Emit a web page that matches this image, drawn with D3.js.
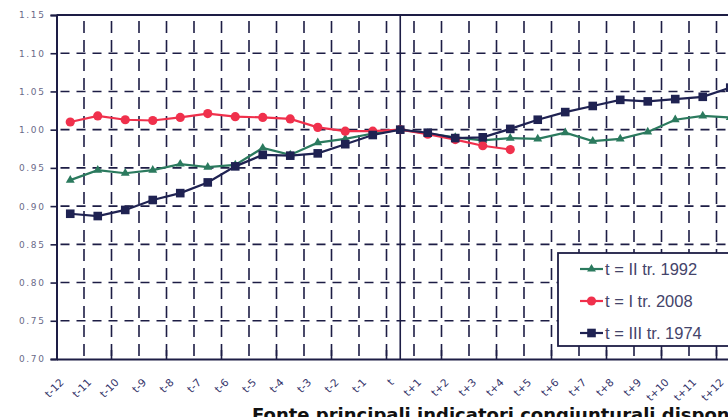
<!DOCTYPE html>
<html>
<head>
<meta charset="utf-8">
<script src="https://cdn.jsdelivr.net/npm/d3@7"></script>
<style>
  body { margin: 0; background: #fff; overflow: hidden; }
  svg { display: block; font-family: "Liberation Sans", Arial, sans-serif; }
</style>
</head>
<body>
<script>
// categorie (trimestri attorno a t)
var categories = ["t-12","t-11","t-10","t-9","t-8","t-7","t-6","t-5","t-4","t-3","t-2","t-1","t",
  "t+1","t+2","t+3","t+4","t+5","t+6","t+7","t+8","t+9","t+10","t+11","t+12"];

// t = II tr. 1992
var green = [0.934,0.947,0.943,0.947,0.955,0.951,0.954,0.976,0.967,0.983,0.988,0.995,1.000,
  0.995,0.990,0.986,0.989,0.988,0.996,0.985,0.988,0.997,1.013,1.018,1.016];
// t = I tr. 2008
var red = [1.010,1.018,1.013,1.012,1.016,1.021,1.017,1.016,1.014,1.003,0.998,0.998,1.000,
  0.994,0.987,0.979,0.974];
// t = III tr. 1974
var blue = [0.890,0.887,0.895,0.908,0.917,0.931,0.952,0.967,0.966,0.969,0.981,0.993,1.000,
  0.996,0.989,0.990,1.001,1.013,1.023,1.031,1.039,1.037,1.040,1.043,1.055];

var yTicks = [0.70,0.75,0.80,0.85,0.90,0.95,1.00,1.05,1.10,1.15];
var legendLabels = ["t = II tr. 1992", "t = I tr. 2008", "t = III tr. 1974"];

var width = 728, height = 417;
var ink = "#1d1d45";
var padding = { left: 56.5, top: 15, bottom: 58 };
var bottomY = height - padding.bottom;

var svg = d3.select("body").append("svg")
    .attr("width", width)
    .attr("height", height);

var xScale = d3.scaleBand()
    .domain(categories)
    .range([padding.left, padding.left + 27.5 * categories.length])
    .paddingInner(0).paddingOuter(0);
var bw = xScale.bandwidth();
function cx(i) { return xScale(categories[i]) + bw / 2; }

var yScale = d3.scaleLinear()
    .domain([0.70, 1.15])
    .range([bottomY, padding.top]);

// griglia orizzontale
svg.append("g")
    .selectAll("line")
    .data(yTicks.slice(1, -1))
    .enter().append("line")
    .attr("x1", padding.left).attr("x2", width)
    .attr("y1", function (d) { return yScale(d); })
    .attr("y2", function (d) { return yScale(d); })
    .attr("stroke", ink).attr("stroke-width", 1.6)
    .attr("stroke-dasharray", "9,7")
    .attr("stroke-dashoffset", -4);

// griglia verticale (confini tra le bande)
svg.append("g")
    .selectAll("line")
    .data(categories.slice(1))
    .enter().append("line")
    .attr("x1", function (d) { return xScale(d); })
    .attr("x2", function (d) { return xScale(d); })
    .attr("y1", padding.top).attr("y2", bottomY)
    .attr("stroke", ink).attr("stroke-width", 1.6)
    .attr("stroke-dasharray", "12,7")
    .attr("stroke-dashoffset", -6);

// tacche interne sull'asse x, ogni due bande
svg.append("g")
    .selectAll("line")
    .data(categories.filter(function (d, i) { return i > 0 && i % 2 === 0; }))
    .enter().append("line")
    .attr("x1", function (d) { return xScale(d); })
    .attr("x2", function (d) { return xScale(d); })
    .attr("y1", bottomY - 9).attr("y2", bottomY)
    .attr("stroke", ink).attr("stroke-width", 1.6);

// linea verticale su t
svg.append("line")
    .attr("x1", cx(12)).attr("x2", cx(12))
    .attr("y1", padding.top).attr("y2", bottomY)
    .attr("stroke", ink).attr("stroke-width", 1.6);

// asse y
var yAxis = d3.axisLeft(yScale)
    .tickValues(yTicks)
    .tickSize(6)
    .tickFormat(d3.format(".2f"));
var gy = svg.append("g")
    .attr("transform", "translate(" + padding.left + ",0)")
    .call(yAxis);
gy.select(".domain").attr("stroke", ink).attr("stroke-width", 2);
gy.selectAll(".tick line").attr("stroke", ink).attr("stroke-width", 1.6);
gy.selectAll(".tick text")
    .attr("fill", "#6a6a88")
    .attr("font-family", "DejaVu Sans")
    .attr("font-size", 9)
    .attr("letter-spacing", 1.6)
    .attr("x", -11);

// asse x
var xAxis = d3.axisBottom(xScale).tickSize(0);
var gx = svg.append("g")
    .attr("transform", "translate(0," + bottomY + ")")
    .call(xAxis);
gx.select(".domain").attr("stroke", ink).attr("stroke-width", 2);
gx.selectAll(".tick text")
    .attr("fill", "#34346a")
    .attr("font-family", "DejaVu Sans")
    .attr("font-size", 10.5)
    .attr("text-anchor", "end")
    .attr("dy", 0)
    .attr("transform", "translate(-8,22) rotate(-45)");

// bordo superiore
svg.append("line")
    .attr("x1", padding.left).attr("x2", width)
    .attr("y1", padding.top).attr("y2", padding.top)
    .attr("stroke", ink).attr("stroke-width", 2);

var series = [
    { name: legendLabels[0], values: green, color: "#2b7a5e", marker: "triangle" },
    { name: legendLabels[1], values: red, color: "#f0304c", marker: "circle" },
    { name: legendLabels[2], values: blue, color: "#1f2252", marker: "square" }
];

var line = d3.line()
    .x(function (d, i) { return cx(i); })
    .y(function (d) { return yScale(d); });

function drawMarker(g, type, color) {
    if (type === "circle") {
        g.append("circle").attr("r", 4.6).attr("fill", color);
    } else if (type === "square") {
        g.append("rect").attr("x", -4.3).attr("y", -4.3)
            .attr("width", 8.6).attr("height", 8.6).attr("fill", color);
    } else {
        g.append("path").attr("d", d3.symbol(d3.symbolTriangle, 34)()).attr("fill", color);
    }
}

// ordine di disegno: verde, rosso, blu sopra
[0, 1, 2].forEach(function (k) {
    var s = series[k];
    svg.append("path")
        .datum(s.values)
        .attr("d", line)
        .attr("fill", "none")
        .attr("stroke", s.color)
        .attr("stroke-width", 2.2);
    svg.append("g").selectAll("g")
        .data(s.values)
        .enter().append("g")
        .attr("transform", function (d, i) { return "translate(" + cx(i) + "," + yScale(d) + ")"; })
        .each(function () { drawMarker(d3.select(this), s.marker, s.color); });
});

// legenda
var legend = svg.append("g").attr("transform", "translate(558,253)");
legend.append("rect")
    .attr("width", 200).attr("height", 93)
    .attr("fill", "#fff")
    .attr("stroke", ink).attr("stroke-width", 1.8);
series.forEach(function (s, i) {
    var ly = 16 + i * 32;
    legend.append("line")
        .attr("x1", 22).attr("x2", 45)
        .attr("y1", ly).attr("y2", ly)
        .attr("stroke", s.color).attr("stroke-width", 2.2);
    var m = legend.append("g").attr("transform", "translate(33.5," + ly + ")");
    drawMarker(m, s.marker, s.color);
    legend.append("text")
        .attr("x", 47).attr("y", ly + 6)
        .attr("fill", "#44446a")
        .attr("font-size", 16.5)
        .text(s.name);
});

// fonte (tagliata in basso e a destra come nell'originale)
svg.append("text")
    .attr("x", 252).attr("y", 421)
    .attr("font-family", "DejaVu Sans")
    .attr("font-weight", "bold")
    .attr("font-size", 18)
    .attr("fill", "#111")
    .text("Fonte principali indicatori congiunturali disponibili");
</script>
</body>
</html>
